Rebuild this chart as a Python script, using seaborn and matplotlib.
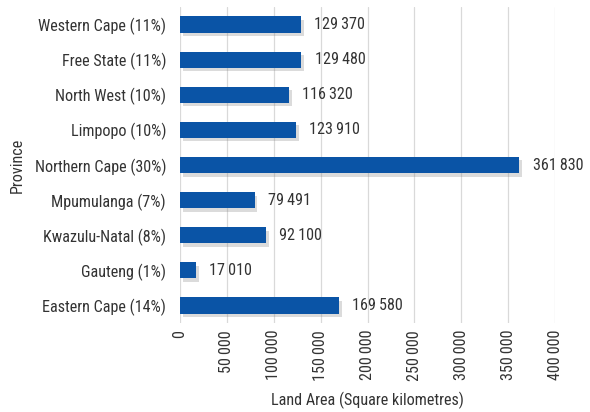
import matplotlib
matplotlib.use("Agg")
import matplotlib.pyplot as plt
import matplotlib.patheffects as pe
from matplotlib.ticker import FuncFormatter
import seaborn as sns
import pandas as pd

provinces = ["Western Cape (11%)", "Free State (11%)", "North West (10%)", "Limpopo (10%)",
             "Northern Cape (30%)", "Mpumulanga (7%)", "Kwazulu-Natal (8%)", "Gauteng (1%)",
             "Eastern Cape (14%)"]
areas = [129370, 129480, 116320, 123910, 361830, 79491, 92100, 17010, 169580]
xticks = [0, 50000, 100000, 150000, 200000, 250000, 300000, 350000, 400000]

df = pd.DataFrame({"Province": provinces, "Area": areas})

sns.set_theme(style="whitegrid")
plt.rcParams['font.family'] = ['Roboto Condensed', 'DejaVu Sans Condensed', 'Liberation Sans', 'DejaVu Sans']

def fmt(v):
    return f"{int(v):,}".replace(",", "\u2009")

FS = 11.6
fig = plt.figure(figsize=(5.9, 4.12), dpi=100)
ax = fig.add_axes([0.305, 0.216, 0.636, 0.767])
sns.barplot(data=df, y="Province", x="Area", orient="h", color="#0a54a6",
            saturation=1, width=0.46, ax=ax)
for p in ax.patches:
    p.set_path_effects([pe.SimplePatchShadow(offset=(2, -2.5), shadow_rgbFace="#888888", alpha=0.3),
                        pe.Normal()])
    p.set_edgecolor("none")
for v, p in zip(areas, ax.patches):
    ax.text(p.get_width() + 14000, p.get_y() + p.get_height() / 2, fmt(v),
            va="center", ha="left", fontsize=FS, color="#333333")

ax.set_xlim(0, 400000)
ax.set_xticks(xticks)
ax.xaxis.set_major_formatter(FuncFormatter(lambda v, _: fmt(v)))
ax.tick_params(axis="x", labelrotation=90, labelsize=FS, colors="#333333", pad=5, length=0)
ax.tick_params(axis="y", labelsize=FS, colors="#333333", length=0, pad=10)
ax.grid(axis="x", color="#d9d9d9", linewidth=0.9)
ax.grid(axis="y", visible=False)
for s in ax.spines.values():
    s.set_visible(False)
ax.set_xlabel("Land Area (Square kilometres)", fontsize=FS, color="#333333", labelpad=8)
ax.set_ylabel("Province", fontsize=FS, color="#333333", labelpad=7)
ax.set_facecolor("white")
fig.patch.set_facecolor("white")
fig.savefig("out.png", dpi=100)
